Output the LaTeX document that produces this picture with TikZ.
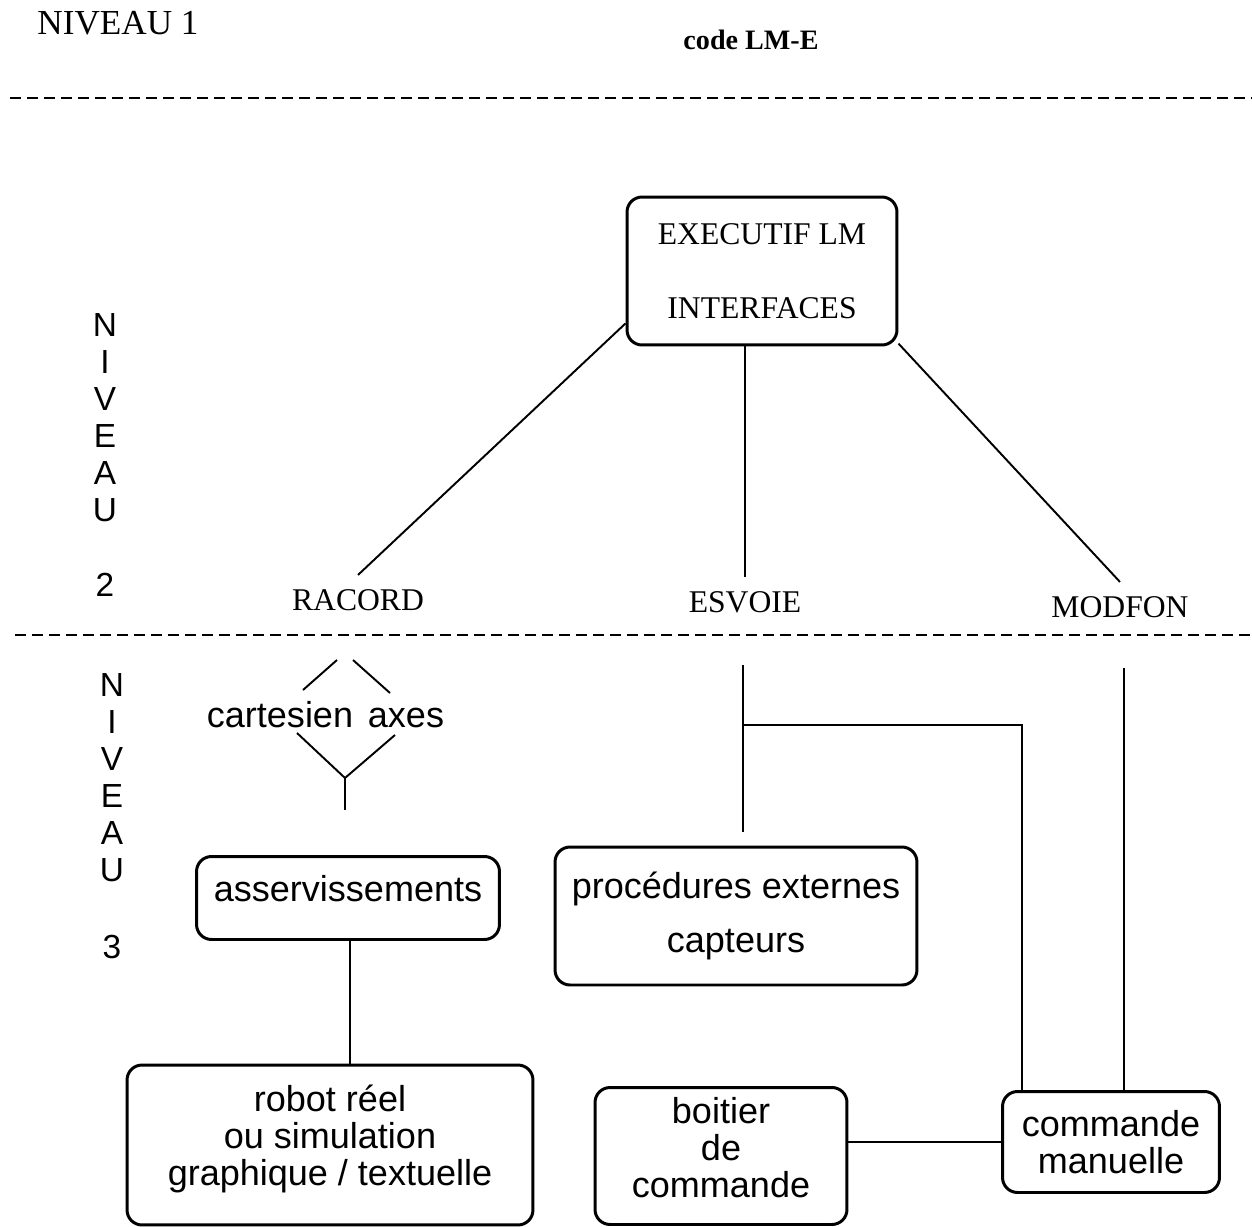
\documentclass[tikz,border=0pt]{standalone}
\usepackage{fontspec}
\setmainfont{Liberation Serif}
\setsansfont{Liberation Sans}
\tikzset{
  box/.style={draw, line width=1.7pt, rounded corners=0.3cm, align=center},
  sbox/.style={box, font=\sffamily\fontsize{20.5}{21}\selectfont},
  lbl/.style={font=\fontsize{18}{21}\selectfont, inner sep=8pt},
  vlet/.style={font=\sffamily\fontsize{19}{21}\selectfont},
  link/.style={line width=1.1pt},
  sep/.style={line width=1.4pt, dash pattern=on 0.22cm off 0.12cm}
}

\begin{document}
\begin{tikzpicture}[x=0.02cm, y=-0.02cm]
\useasboundingbox (0,0) rectangle (1252,1227);
% titres
\node (niv1) at (118,23) {\fontsize{20}{22}\selectfont NIVEAU 1};
\node (code) at (751,40) {\fontsize{16}{18}\selectfont\bfseries code LM-E};
\draw[sep] (10,98) -- (1252,98);
\draw[sep] (15,635) -- (1252,635);
% niveaux 2 et 3, ecrits verticalement
\foreach \c [count=\i from 0] in {N,I,V,E,A,U}
{
\node[vlet] at (105,325+37*\i) {\c};
\node[vlet] at (112,685+37*\i) {\c};
}
\node[vlet] (n2) at (105,585) {2};
\node[vlet] (n3) at (112,947) {3};

% niveau 2
\node[box, minimum width=5.4cm, minimum height=2.96cm, font=\fontsize{18}{21}\selectfont] (exec) at (762,271) {EXECUTIF LM\\[21pt]INTERFACES};
\node[lbl] (racord) at (358,600) {RACORD};
\node[lbl] (esvoie) at (745,602) {ESVOIE};
\node[lbl] (modfon) at (1120,607) {MODFON};
\draw[link] (exec.201) -- (racord.north);
\draw[link] (exec.south -| esvoie.north) -- (esvoie.north);
\draw[link] (exec.-28) -- (modfon.north);

% niveau 3
\node[sbox, draw=none, inner sep=0pt] (cart) at (280,715) {cartesien};
\node[sbox, draw=none, inner sep=0pt] (axes) at (406,718) {axes};
\coordinate (fork) at (345,778);
\draw[link] (303,690) -- (337,660);
\draw[link] (353,660) -- (390,693);
\draw[link] (297,733) -- (fork) -- (395,735);
\draw[link, line width=1.6pt] (fork) -- (345,810);

\node[sbox, minimum width=6.06cm, minimum height=1.66cm, text depth=11pt] (asserv) at (348,898) {asservissements};
\node[sbox, minimum width=7.24cm, minimum height=2.76cm] (proc) at (736,916) {proc\'edures externes\\[10pt]capteurs};
\node[sbox, minimum width=8.12cm, minimum height=3.2cm, text depth=11pt] (robot) at (330,1145) {robot r\'eel\\ou simulation\\graphique / textuelle};
\node[sbox, minimum width=5.04cm, minimum height=2.74cm, text depth=10pt] (boitier) at (721,1156) {boitier\\de\\commande};
\node[sbox, minimum width=4.34cm, minimum height=2.02cm] (manu) at (1111,1142) {commande\\manuelle};

\coordinate (ev) at (743,665);
\coordinate (evb) at (743,725);
\coordinate (mf) at (1124,668);
\draw[link, line width=1.6pt] (asserv.south -| 350,0) -- (robot.north -| 350,0);
\draw[link, line width=1.6pt] (ev) -- (ev |- proc.north) [shorten >=0.28cm];
\draw[link, line width=1.6pt] (evb) -- (1022,725) -- (1022,725 |- manu.north);
\draw[link, line width=1.6pt] (mf) -- (mf |- manu.north);
\draw[link] (manu.west) -- (manu.west -| boitier.east);
\end{tikzpicture}
\end{document}
